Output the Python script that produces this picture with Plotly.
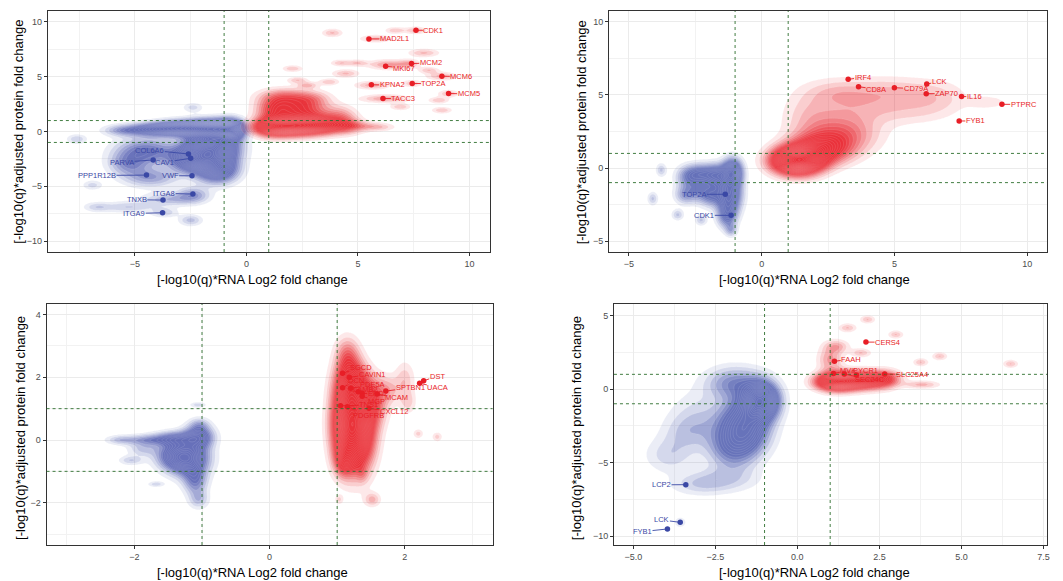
import numpy as np
import plotly.graph_objects as go

RED = (232, 30, 38)
BLUE = (62, 76, 168)
RED_TXT = "rgb(232,30,38)"
BLUE_TXT = "rgb(58,72,165)"

# ---------------- Panel 1 (top-left) ----------------
p1_red_genes = ["CDK1", "MAD2L1", "MKI67", "MCM2", "MCM6", "KPNA2", "TOP2A", "MCM5", "TACC3"]
p1_red_x = [7.60, 5.49, 6.24, 7.40, 8.76, 5.60, 7.43, 9.06, 6.12]
p1_red_y = [9.24, 8.45, 5.96, 6.20, 5.05, 4.26, 4.38, 3.47, 3.01]
p1_red_lx = [8.38, 6.63, 7.07, 8.26, 9.63, 6.53, 8.38, 9.96, 7.04]
p1_red_ly = [9.24, 8.45, 5.78, 6.26, 5.02, 4.26, 4.38, 3.43, 3.01]

p1_blue_genes = ["COL6A6", "PARVA", "CAV1", "PPP1R12B", "VWF", "ITGA8", "TNXB", "ITGA9"]
p1_blue_x = [-2.60, -4.18, -2.50, -4.48, -2.44, -2.40, -3.74, -3.76]
p1_blue_y = [-2.05, -2.60, -2.45, -3.98, -4.04, -5.71, -6.26, -7.42]
p1_blue_lx = [-4.33, -5.57, -3.66, -6.70, -3.42, -3.69, -4.91, -5.03]
p1_blue_ly = [-1.70, -2.80, -2.80, -4.01, -4.04, -5.65, -6.23, -7.48]

# density components: (centre x, centre y, spread x, spread y, weight)
p1_red_density = [
    (1.2, 0.4, 0.6, 0.55, 7), (2.2, 0.5, 0.7, 0.55, 8), (3.3, 0.6, 0.7, 0.55, 6),
    (1.4, 2.0, 0.6, 0.8, 4), (2.6, 2.0, 0.7, 0.7, 3), (1.8, 3.2, 0.8, 0.5, 1.8),
    (2.9, 3.0, 0.6, 0.5, 1.2), (4.2, 1.5, 0.5, 0.6, 1.5), (4.5, 0.5, 0.5, 0.5, 2.0),
    (5.0, 0.5, 0.7, 0.3, 1.0), (5.9, 0.4, 0.5, 0.25, 1.0),
    (3.85, 9.0, 0.3, 0.25, 1.3), (6.68, 9.23, 0.3, 0.2, 1.2), (7.6, 9.23, 0.3, 0.22, 1.4),
    (5.8, 8.47, 0.45, 0.22, 1.4), (7.95, 7.17, 0.45, 0.25, 1.3), (4.23, 6.25, 0.3, 0.2, 1.2),
    (4.97, 6.25, 0.3, 0.2, 1.2), (6.4, 6.1, 0.6, 0.3, 1.8), (7.3, 6.2, 0.3, 0.25, 1.3),
    (2.07, 5.74, 0.3, 0.2, 1.2), (4.45, 5.29, 0.4, 0.25, 1.3), (8.17, 5.59, 0.3, 0.2, 1.2),
    (8.76, 5.04, 0.45, 0.25, 1.4), (2.29, 4.68, 0.3, 0.2, 1.2), (2.74, 4.22, 0.3, 0.2, 1.3),
    (3.7, 4.52, 0.3, 0.2, 1.2), (5.64, 4.22, 0.5, 0.25, 1.5), (7.43, 4.38, 0.3, 0.22, 1.2),
    (9.06, 3.46, 0.3, 0.22, 1.3), (8.62, 2.85, 0.3, 0.2, 1.2), (6.2, 3.0, 0.7, 0.25, 1.6),
    (6.9, 2.25, 0.3, 0.2, 1.2), (8.76, 1.94, 0.3, 0.2, 1.2),
]
p1_blue_density = [
    (-5.5, 0.1, 0.6, 0.35, 2), (-4.2, 0.2, 0.7, 0.4, 4), (-3.0, 0.3, 0.7, 0.45, 6),
    (-1.6, 0.3, 0.7, 0.5, 9), (-0.7, 0.2, 0.4, 0.6, 7),
    (-1.5, -1.5, 0.7, 1.0, 9), (-2.3, -2.5, 0.7, 0.8, 6), (-1.3, -3.5, 0.6, 0.8, 5),
    (-4.5, -1.8, 0.9, 0.8, 3), (-5.3, -3.0, 0.6, 0.7, 2), (-4.3, -4.2, 0.8, 0.6, 2),
    (-2.4, -5.8, 0.5, 0.5, 2), (-3.5, -6.2, 0.8, 0.4, 1.5), (-2.5, -8.1, 0.35, 0.35, 1.4),
    (-3.7, -7.4, 0.4, 0.3, 1.2), (-5.3, -6.9, 0.8, 0.35, 1.2),
    (-7.6, -0.7, 0.3, 0.3, 1.2), (-2.4, 2.2, 0.3, 0.3, 1.0), (-6.9, -4.9, 0.3, 0.3, 1.0),
    (-6.7, -6.9, 0.4, 0.3, 1.0),
]

# ---------------- Panel 2 (top-right) ----------------
p2_red_genes = ["IRF4", "CD8A", "CD79A", "LCK", "ZAP70", "IL16", "PTPRC", "FYB1"]
p2_red_x = [3.26, 3.65, 5.00, 6.22, 6.20, 7.53, 9.05, 7.44]
p2_red_y = [6.07, 5.57, 5.50, 5.75, 5.09, 4.89, 4.36, 3.22]
p2_red_lx = [3.80, 4.31, 5.80, 6.69, 6.97, 8.01, 9.87, 8.05]
p2_red_ly = [6.21, 5.39, 5.43, 5.91, 5.09, 4.89, 4.36, 3.22]

p2_blue_genes = ["TOP2A", "CDK1"]
p2_blue_x = [-1.37, -1.15]
p2_blue_y = [-1.80, -3.24]
p2_blue_lx = [-2.53, -2.16]
p2_blue_ly = [-1.80, -3.24]

p2_red_density = [
    (1.35, 0.5, 0.6, 0.6, 10), (2.2, 1.3, 0.75, 0.7, 3.5), (3.0, 2.3, 0.9, 0.9, 1.8),
    (1.8, 3.5, 0.7, 1.2, 0.7), (2.8, 5.2, 0.8, 0.6, 0.55),
    (3.6, 4.4, 1.1, 1.0, 0.8), (5.0, 5.2, 1.0, 0.7, 0.7), (6.6, 4.8, 0.8, 0.8, 0.65),
    (5.5, 3.8, 1.0, 0.6, 0.45), (8.5, 4.5, 0.5, 0.3, 0.55),
]
p2_blue_density = [
    (-1.1, -0.3, 0.25, 0.6, 5), (-1.2, -1.8, 0.3, 0.8, 4), (-1.3, -3.2, 0.25, 0.6, 2.5),
    (-1.15, -4.25, 0.15, 0.3, 1.2), (-1.7, -0.5, 0.3, 0.5, 3), (-2.3, -0.4, 0.35, 0.45, 2.5),
    (-2.8, -0.6, 0.3, 0.5, 1.5), (-2.5, -1.6, 0.4, 0.5, 1.5), (-1.9, -1.9, 0.3, 0.5, 2),
    (-2.9, -1.9, 0.25, 0.4, 1.0),
    (-3.78, -0.14, 0.13, 0.3, 1.0), (-4.1, -2.1, 0.13, 0.3, 1.0), (-3.16, -3.2, 0.15, 0.25, 1.0),
    (-2.28, -3.56, 0.15, 0.25, 1.0),
]

# ---------------- Panel 3 (bottom-left) ----------------
p3_red_genes = ["SGCD", "CAVIN1", "DCN", "PDE5A", "LAMB2", "EHD2", "MCAM", "SPTBN1",
                "MGP", "TNS1", "CXCL12", "PDGFRB", "DST", "UACA"]
p3_red_x = [1.08, 1.18, 1.08, 1.20, 1.31, 1.37, 1.59, 1.72, 1.37, 1.05, 1.47, 1.15, 2.28, 2.22]
p3_red_y = [2.13, 2.00, 1.67, 1.65, 1.54, 1.49, 1.47, 1.56, 1.40, 1.09, 1.01, 1.06, 1.89, 1.81]
p3_red_lx = [1.35, 1.52, 1.28, 1.52, 1.42, 1.60, 1.88, 2.08, 1.58, 1.47, 1.84, 1.47, 2.48, 2.49]
p3_red_ly = [2.32, 2.10, 1.91, 1.76, 1.60, 1.47, 1.35, 1.67, 1.24, 1.12, 0.90, 0.79, 2.04, 1.68]

p3_red_density = [
    (1.15, 0.5, 0.15, 0.8, 9), (1.35, 0.3, 0.15, 0.8, 6), (1.2, 1.8, 0.15, 0.5, 5),
    (1.5, 1.2, 0.15, 0.5, 3), (1.1, -0.6, 0.1, 0.35, 3), (1.15, 2.7, 0.12, 0.4, 2),
    (2.0, 1.9, 0.1, 0.4, 1.1), (2.05, 1.2, 0.08, 0.25, 0.9), (1.75, 1.6, 0.12, 0.3, 1.2),
    (2.2, 0.2, 0.05, 0.1, 1.0), (2.48, 0.1, 0.05, 0.1, 1.0), (1.52, -1.9, 0.08, 0.15, 1.4),
    (1.03, -1.9, 0.04, 0.1, 0.9), (1.37, -1.06, 0.06, 0.2, 0.9),
]
p3_blue_density = [
    (-2.2, 0.0, 0.15, 0.1, 1.4), (-1.8, 0.0, 0.2, 0.12, 2), (-1.4, 0.05, 0.2, 0.15, 3),
    (-1.05, 0.1, 0.15, 0.25, 4), (-1.2, -0.6, 0.2, 0.35, 5), (-1.4, -0.5, 0.2, 0.3, 3),
    (-1.1, -1.3, 0.12, 0.3, 2.5), (-1.05, -1.9, 0.1, 0.2, 1.4), (-2.05, -0.65, 0.12, 0.1, 1.2),
    (-1.88, -0.3, 0.15, 0.15, 1.2), (-1.68, -1.41, 0.08, 0.06, 1.1), (-1.06, 1.12, 0.08, 0.06, 1.1),
    (-1.04, 0.5, 0.1, 0.15, 1.2),
]

# ---------------- Panel 4 (bottom-right) ----------------
p4_red_genes = ["CERS4", "FAAH", "MVK", "PYCR1", "SEC24C", "SLC25A4"]
p4_red_x = [2.09, 1.13, 1.10, 1.80, 1.43, 2.66]
p4_red_y = [3.19, 1.89, 1.05, 0.95, 1.02, 1.02]
p4_red_lx = [2.75, 1.64, 1.55, 2.09, 2.21, 3.49]
p4_red_ly = [3.19, 2.02, 1.25, 1.25, 0.64, 1.00]

p4_blue_genes = ["LCP2", "LCK", "FYB1"]
p4_blue_x = [-3.40, -3.57, -3.96]
p4_blue_y = [-6.50, -9.06, -9.51]
p4_blue_lx = [-4.14, -4.13, -4.72]
p4_blue_ly = [-6.51, -8.90, -9.69]

p4_red_density = [
    (1.2, 0.5, 0.4, 0.4, 8), (2.0, 0.6, 0.5, 0.4, 6), (2.7, 0.7, 0.3, 0.4, 2),
    (1.0, 2.0, 0.25, 0.6, 1.5), (1.2, 2.9, 0.25, 0.3, 1.2),
    (1.53, 4.16, 0.18, 0.2, 1.1), (2.14, 4.73, 0.15, 0.18, 1.1), (3.0, 3.7, 0.15, 0.18, 1.1),
    (1.94, 2.46, 0.2, 0.2, 1.1), (3.76, 1.82, 0.15, 0.18, 1.1), (4.34, 2.23, 0.15, 0.18, 1.1),
    (6.5, 1.71, 0.15, 0.18, 1.1), (3.8, 0.3, 0.35, 0.18, 1.2),
]
p4_blue_density = [
    (-1.1, -0.8, 0.35, 0.8, 7), (-1.6, -2.5, 0.5, 1.2, 4.5), (-2.0, -4.0, 0.5, 1.0, 2),
    (-1.9, 0.4, 0.6, 0.75, 2), (-3.0, -2.0, 0.6, 1.2, 0.9), (-3.9, -4.5, 0.5, 0.8, 0.9),
    (-3.4, -3.0, 0.5, 0.8, 0.7), (-3.0, -6.5, 0.6, 0.5, 0.8), (-2.2, -6.1, 0.7, 0.6, 0.9),
    (-3.57, -9.06, 0.15, 0.3, 0.6),
]

# ---------------- helpers ----------------
def density_grid(components, xr, yr, n=240):
    xs = np.linspace(xr[0], xr[1], n)
    ys = np.linspace(yr[0], yr[1], n)
    X, Y = np.meshgrid(xs, ys)
    Z = np.zeros_like(X)
    for cx, cy, sx, sy, w in components:
        Z += w * np.exp(-0.5 * (((X - cx) / sx) ** 2 + ((Y - cy) / sy) ** 2))
    return xs, ys, Z


def level_scale(rgb, n_levels, n_global, cap, amin=0.10, amax=1.0):
    # ggplot-like: each level polygon has alpha growing with the level and the
    # nested level regions stack; the stacked opacity is capped at `cap`.
    r, g, b = rgb
    scale = [[0.0, f"rgba({r},{g},{b},0)"]]
    prod = 1.0
    prev = 0.0
    for i in range(n_levels):
        a_lv = amin + (amax - amin) * i / max(n_global - 1, 1)
        prod *= (1 - a_lv)
        target = min(1 - prod, cap)
        a = 1 - (1 - target) / (1 - prev) if prev < 1 else 0.0
        a = max(min(a, 1.0), 0.0)
        prev = target
        scale.append([(i + 1) / n_levels, f"rgba({r},{g},{b},{a:.4f})"])
    return scale


fig = go.Figure()

panels = [
    dict(ax="", xr=[-8.9, 10.9], yr=[-11.0, 11.0], step=0.4,
         red=p1_red_density, blue=p1_blue_density,
         rg=(p1_red_genes, p1_red_x, p1_red_y, p1_red_lx, p1_red_ly),
         bg=(p1_blue_genes, p1_blue_x, p1_blue_y, p1_blue_lx, p1_blue_ly)),
    dict(ax="2", xr=[-5.75, 10.75], yr=[-5.75, 10.75], step=0.3,
         red=p2_red_density, blue=p2_blue_density,
         rg=(p2_red_genes, p2_red_x, p2_red_y, p2_red_lx, p2_red_ly),
         bg=(p2_blue_genes, p2_blue_x, p2_blue_y, p2_blue_lx, p2_blue_ly)),
    dict(ax="3", xr=[-3.3, 3.3], yr=[-3.35, 4.34], step=0.4,
         red=p3_red_density, blue=p3_blue_density,
         rg=(p3_red_genes, p3_red_x, p3_red_y, p3_red_lx, p3_red_ly),
         bg=([], [], [], [], [])),
    dict(ax="4", xr=[-5.59, 7.61], yr=[-10.6, 5.78], step=0.35,
         red=p4_red_density, blue=p4_blue_density,
         rg=(p4_red_genes, p4_red_x, p4_red_y, p4_red_lx, p4_red_ly),
         bg=(p4_blue_genes, p4_blue_x, p4_blue_y, p4_blue_lx, p4_blue_ly)),
]

annotations = []
shapes = []

for p in panels:
    xa, ya = "x" + p["ax"], "y" + p["ax"]
    grids = {}
    for key in ("blue", "red"):
        grids[key] = density_grid(p[key], p["xr"], p["yr"])
    step = p["step"]
    zmax_all = max(g[2].max() for g in grids.values())
    n_global = int(np.floor((zmax_all - step) / step)) + 1
    for key, rgb, cap in (("blue", BLUE, 0.78), ("red", RED, 0.90)):
        xs, ys, Z = grids[key]
        n_lv = int(np.floor((Z.max() - step) / step)) + 1
        if n_lv < 1:
            continue
        fig.add_trace(go.Contour(
            x=xs, y=ys, z=Z, xaxis=xa, yaxis=ya,
            autocontour=False,
            contours=dict(start=step, end=step * n_lv, size=step,
                          coloring="fill", showlines=True),
            line=dict(color="rgba(255,255,255,0.22)", width=0.5, smoothing=1),
            colorscale=level_scale(rgb, n_lv, n_global, cap),
            showscale=False, hoverinfo="skip",
        ))
    for (genes, gx, gy, lx, ly), col in ((p["bg"], BLUE_TXT), (p["rg"], RED_TXT)):
        if not genes:
            continue
        fig.add_trace(go.Scatter(x=gx, y=gy, xaxis=xa, yaxis=ya, mode="markers",
                                 marker=dict(color=col, size=5.5), hoverinfo="skip"))
        for g, x0, y0, x1, y1 in zip(genes, gx, gy, lx, ly):
            annotations.append(dict(
                x=x0, y=y0, xref=xa, yref=ya, ax=x1, ay=y1, axref=xa, ayref=ya,
                text=g, showarrow=True, arrowhead=0, arrowwidth=0.9, arrowcolor=col,
                standoff=0, startstandoff=0, borderpad=0,
                font=dict(size=7.5, color=col, family="Liberation Sans, Arial")))
    for v in (-1, 1):
        shapes.append(dict(type="line", xref=xa, yref=ya + " domain", x0=v, x1=v, y0=0, y1=1,
                           line=dict(color="rgb(45,110,45)", width=0.9, dash="dot"), layer="above"))
        shapes.append(dict(type="line", xref=xa + " domain", yref=ya, x0=0, x1=1, y0=v, y1=v,
                           line=dict(color="rgb(45,110,45)", width=0.9, dash="dot"), layer="above"))

W, H = 1063, 581


def axis(domain, rng, dtick, minor, fmt=None):
    d = dict(domain=domain, range=rng, dtick=dtick, tick0=0, showgrid=True,
             gridcolor="#EBEBEB", gridwidth=1.2, zeroline=False, showline=True,
             mirror=True, linecolor="#333333", linewidth=1, ticks="outside",
             ticklen=3, tickwidth=1, tickcolor="#333333",
             tickfont=dict(size=9, color="#4D4D4D", family="Liberation Sans, Arial"),
             minor=dict(dtick=minor, tick0=0, showgrid=True, gridcolor="#F2F2F2", gridwidth=0.7),
             showspikes=False)
    if fmt:
        d["tickformat"] = fmt
    return d


top_y = [1 - 252 / H, 1 - 11 / H]
bot_y = [1 - 545 / H, 1 - 304 / H]

layout = dict(
    width=W, height=H, margin=dict(l=0, r=0, t=0, b=0),
    paper_bgcolor="white", plot_bgcolor="white", showlegend=False,
    font=dict(family="Liberation Sans, Arial"),
    xaxis=axis([48 / W, 491 / W], [-8.9, 10.9], 5, 2.5),
    yaxis=axis(top_y, [-11.0, 11.0], 5, 2.5),
    xaxis2=axis([610.7 / W, 1050 / W], [-5.75, 10.75], 5, 2.5),
    yaxis2=axis(top_y, [-5.75, 10.75], 5, 2.5),
    xaxis3=axis([46.7 / W, 494 / W], [-3.3, 3.3], 2, 1),
    yaxis3=axis(bot_y, [-3.35, 4.34], 2, 1),
    xaxis4=axis([615.7 / W, 1050 / W], [-5.59, 7.61], 2.5, 1.25, ".1f"),
    yaxis4=axis(bot_y, [-10.6, 5.78], 5, 2.5),
)
for i in ("", "2", "3", "4"):
    layout["xaxis" + i]["anchor"] = "y" + i
    layout["yaxis" + i]["anchor"] = "x" + i

XT = "[-log10(q)*RNA Log2 fold change"
YT = "[-log10(q)*adjusted protein fold change"
title_font = dict(size=13, color="black", family="Liberation Sans, Arial")
for cx, cy in ((253.5, 279), (816.5, 279), (253.5, 572.7), (816.5, 572.7)):
    annotations.append(dict(text=XT, x=cx / W, y=1 - cy / H, xref="paper", yref="paper",
                            showarrow=False, xanchor="center", yanchor="middle", font=title_font))
for cx, cy in ((19, 131.7), (583.3, 132.7), (20, 428), (578.3, 428.5)):
    annotations.append(dict(text=YT, x=cx / W, y=1 - cy / H, xref="paper", yref="paper",
                            showarrow=False, xanchor="center", yanchor="middle", textangle=-90,
                            font=title_font))

layout["annotations"] = annotations
layout["shapes"] = shapes
fig.update_layout(**layout)
fig.write_html("out.html")
